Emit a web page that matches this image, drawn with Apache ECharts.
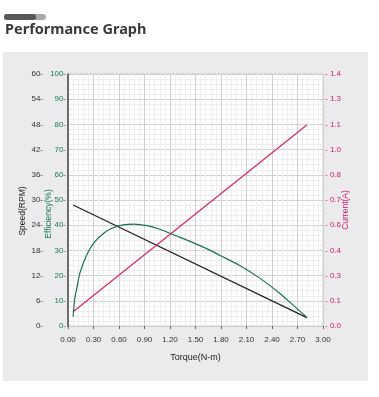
<!DOCTYPE html>
<html>
<head>
<meta charset="utf-8">
<script src="https://cdn.jsdelivr.net/npm/echarts@6/dist/echarts.min.js"></script>
<style>html,body{margin:0;padding:0;background:#fff;}#c{width:379px;height:397px;}</style>
</head>
<body>
<div id="c"></div>
<script>
// Data
var torqueLine = [0.06, 2.81];
var speedRPM = [28.8, 2.0];
var currentA = [0.079, 1.117];
var torqueEff = [0.06, 0.08, 0.10, 0.14, 0.22, 0.30, 0.42, 0.53, 0.65, 0.77, 0.93, 1.08, 1.28, 1.47, 1.65, 1.79, 2.02, 2.26, 2.49, 2.69, 2.81];
var efficiency = [3.7, 11.0, 14.3, 21.0, 28.2, 32.8, 36.8, 39.0, 40.1, 40.4, 39.8, 38.4, 35.7, 33.1, 30.4, 28.0, 24.0, 18.9, 13.0, 7.0, 3.5];
var axisNames = ['Speed(RPM)', 'Efficiency(%)', 'Current(A)', 'Torque(N-m)'];

function pairs(xs, ys) { return xs.map(function (x, i) { return [x, ys[i]]; }); }

var chart = echarts.init(document.getElementById('c'), null, { renderer: 'canvas' });
var labelFont = 'Liberation Sans, Arial, sans-serif';
function vName(text, x, y, color) {
  return { type: 'text', z: 10, x: x, y: y, rotation: Math.PI / 2,
    style: { text: text, fill: color, align: 'center', verticalAlign: 'middle', font: '8.5px Liberation Sans, Arial, sans-serif' } };
}
chart.setOption({
  animation: false,
  backgroundColor: '#ffffff',
  graphic: [
    { type: 'rect', z: -10, shape: { x: 3, y: 52, width: 365, height: 329 }, style: { fill: '#ebebed' } },
    { type: 'rect', z: -9, shape: { x: 4, y: 14, width: 42, height: 6, r: 3 }, style: { fill: '#a9a9a9' } },
    { type: 'rect', z: -8, shape: { x: 4, y: 14, width: 32, height: 6, r: 3 }, style: { fill: '#585858' } },
    { type: 'text', z: -8, left: 5, top: 22, style: { text: 'Performance Graph', fill: '#3a3a3a', font: 'bold 14.5px "Noto Sans", "DejaVu Sans", sans-serif' } },
    vName(axisNames[0], 23, 211, '#222222'),
    vName(axisNames[1], 49, 214, '#1b7a4c'),
    vName(axisNames[2], 346, 210, '#d0186a')
  ],
  grid: { left: 68, right: 56, top: 74, bottom: 71, show: true, backgroundColor: '#ffffff', borderColor: '#c9c9c9', borderWidth: 1 },
  xAxis: {
    type: 'value', min: 0, max: 3, interval: 0.3, offset: 5,
    name: axisNames[3], nameLocation: 'middle', nameGap: 22,
    nameTextStyle: { color: '#222', fontSize: 9, fontFamily: labelFont },
    axisLine: { show: false },
    axisTick: { show: true, length: 3, lineStyle: { color: '#666' } },
    axisLabel: { color: '#333', fontSize: 8, fontFamily: labelFont, margin: 5, formatter: function (v) { return v.toFixed(2); } },
    splitLine: { show: true, lineStyle: { color: '#cfcfcf', width: 1 } },
    minorTick: { show: false, splitNumber: 5 },
    minorSplitLine: { show: true, lineStyle: { color: '#eeeeee', width: 1 } }
  },
  yAxis: [
    {
      type: 'value', position: 'left', offset: 25, min: 0, max: 60, interval: 6,
      axisLine: { show: false }, axisTick: { show: false },
      axisLabel: { color: '#333', fontSize: 8, fontFamily: labelFont, margin: 0, formatter: function (v) { return v + '-'; } },
      splitLine: { show: false }
    },
    {
      type: 'value', position: 'left', min: 0, max: 100, interval: 10,
      axisLine: { show: true, lineStyle: { color: '#4a4a4a', width: 1.5 } }, axisTick: { show: false },
      axisLabel: { color: '#1b7a4c', fontSize: 8, fontFamily: labelFont, margin: 2, formatter: function (v) { return v + '-'; } },
      splitLine: { show: true, lineStyle: { color: '#cfcfcf', width: 1 } },
      minorTick: { show: false, splitNumber: 5 },
      minorSplitLine: { show: true, lineStyle: { color: '#eeeeee', width: 1 } }
    },
    {
      type: 'value', position: 'right', min: 0, max: 1.4, interval: 0.14,
      axisLine: { show: false }, axisTick: { show: false },
      axisLabel: { color: '#d0186a', fontSize: 8, fontFamily: labelFont, margin: 2, formatter: function (v) { return '- ' + v.toFixed(1); } },
      splitLine: { show: false }
    }
  ],
  series: [
    { type: 'line', yAxisIndex: 0, data: pairs(torqueLine, speedRPM), showSymbol: false, lineStyle: { color: '#222222', width: 1.2 }, itemStyle: { color: '#222222' } },
    { type: 'line', yAxisIndex: 2, data: pairs(torqueLine, currentA), showSymbol: false, lineStyle: { color: '#d6246e', width: 1.2 }, itemStyle: { color: '#d6246e' } },
    { type: 'line', yAxisIndex: 1, data: pairs(torqueEff, efficiency), showSymbol: false, smooth: 0.3, lineStyle: { color: '#1b7050', width: 1.2 }, itemStyle: { color: '#1b7050' } }
  ]
});
</script>
</body>
</html>
